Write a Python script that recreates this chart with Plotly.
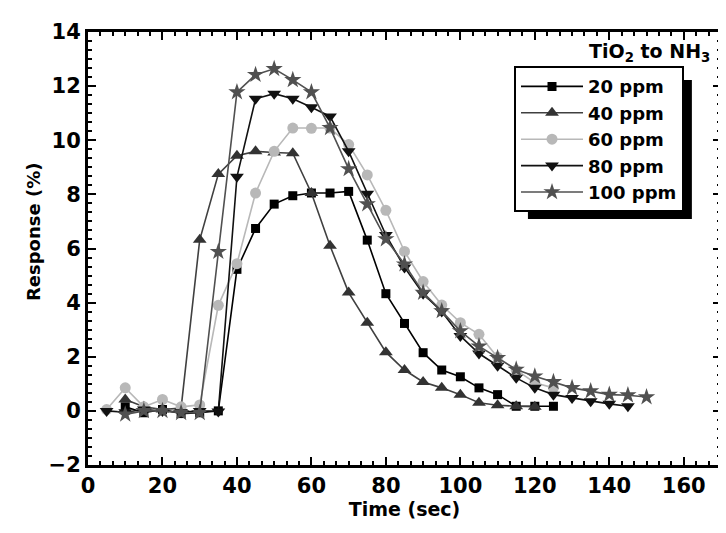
import plotly.graph_objects as go

# Response (%) of TiO2 sensor to NH3
t_20 = [10, 15, 20, 25, 30, 35, 40, 45, 50, 55, 60, 65, 70, 75, 80, 85, 90, 95,
        100, 105, 110, 115, 120, 125]
r_20 = [0.15, -0.07, 0.05, -0.1, -0.07, 0.0, 5.23, 6.74, 7.64, 7.95, 8.05, 8.05,
        8.11, 6.31, 4.33, 3.23, 2.15, 1.51, 1.26, 0.85, 0.6, 0.17, 0.17, 0.17]

t_40 = [10, 15, 20, 25, 30, 35, 40, 45, 50, 55, 60, 65, 70, 75, 80, 85, 90, 95,
        100, 105, 110, 115, 120]
r_40 = [0.42, 0.15, 0.05, 0.1, 6.32, 8.75, 9.43, 9.59, 9.55, 9.52, 8.05, 6.1,
        4.37, 3.26, 2.17, 1.51, 1.07, 0.85, 0.6, 0.3, 0.21, 0.17, 0.15]

t_60 = [5, 10, 15, 20, 25, 30, 35, 40, 45, 50, 55, 60, 65, 70, 75, 80, 85, 90,
        95, 100, 105, 110, 115, 120, 125]
r_60 = [0.05, 0.85, 0.15, 0.42, 0.15, 0.22, 3.9, 5.44, 8.05, 9.59, 10.45, 10.44,
        10.45, 9.84, 8.72, 7.41, 5.89, 4.78, 3.91, 3.26, 2.83, 1.98, 1.5, 1.04, 0.85]

t_80 = [5, 10, 15, 20, 25, 30, 35, 40, 45, 50, 55, 60, 65, 70, 75, 80, 85, 90,
        95, 100, 105, 110, 115, 120, 125, 130, 135, 140, 145]
r_80 = [0.0, -0.05, 0.05, 0.0, -0.05, 0.0, -0.02, 8.65, 11.53, 11.72, 11.53,
        11.22, 10.88, 9.59, 8.02, 6.5, 5.3, 4.33, 3.67, 2.77, 2.12, 1.67, 1.22,
        0.85, 0.6, 0.48, 0.36, 0.26, 0.17]

t_100 = [10, 15, 20, 25, 30, 35, 40, 45, 50, 55, 60, 65, 70, 75, 80, 85, 90, 95,
         100, 105, 110, 115, 120, 125, 130, 135, 140, 145, 150]
r_100 = [-0.13, 0.0, 0.0, -0.07, -0.07, 5.88, 11.78, 12.42, 12.64, 12.23, 11.78,
         10.46, 8.94, 7.64, 6.35, 5.42, 4.37, 3.69, 2.95, 2.39, 1.96, 1.53, 1.28,
         1.07, 0.85, 0.73, 0.6, 0.58, 0.51]

series = [
    ("20 ppm", t_20, r_20, "square", 9, "#000000", "#000000"),
    ("40 ppm", t_40, r_40, "triangle-up", 12, "#333333", "#404040"),
    ("60 ppm", t_60, r_60, "circle", 11, "#b8b8b8", "#b8b8b8"),
    ("80 ppm", t_80, r_80, "triangle-down", 12, "#111111", "#111111"),
    ("100 ppm", t_100, r_100, "star", 13, "#505050", "#505050"),
]

font = "DejaVu Sans, sans-serif"

fig = go.Figure()
for name, t, r, sym, size, mcol, lcol in series:
    fig.add_trace(
        go.Scatter(
            x=t,
            y=r,
            name=name,
            mode="lines+markers",
            line=dict(color=lcol, width=1.6),
            marker=dict(symbol=sym, size=size, color=mcol, line=dict(width=0)),
        )
    )

axis_common = dict(
    showline=True,
    linewidth=3,
    linecolor="black",
    mirror="ticks",
    ticks="inside",
    ticklen=8,
    tickwidth=2,
    tickcolor="black",
    showgrid=False,
    zeroline=False,
    tickfont=dict(family=font, size=21, color="black", weight="bold"),
)

fig.update_layout(
    width=726,
    height=533,
    margin=dict(l=80, r=10, t=24, b=76),
    paper_bgcolor="white",
    plot_bgcolor="white",
    xaxis=dict(
        range=[0, 170],
        dtick=20,
        minor=dict(dtick=20 / 6, ticks="inside", ticklen=4, tickwidth=2,
                   tickcolor="black"),
        title=dict(text="Time (sec)", standoff=6,
                   font=dict(family=font, size=19, color="black", weight="bold")),
        **axis_common,
    ),
    yaxis=dict(
        range=[-2, 14],
        dtick=2,
        minor=dict(dtick=2 / 6, ticks="inside", ticklen=4, tickwidth=2,
                   tickcolor="black"),
        **axis_common,
    ),
    legend=dict(
        x=0.673,
        y=0.921,
        xanchor="left",
        yanchor="top",
        bgcolor="white",
        bordercolor="black",
        borderwidth=2,
        itemwidth=62,
        font=dict(family=font, size=18, color="black", weight="bold"),
        tracegroupgap=0,
    ),
    showlegend=True,
)

# legend drop shadow
fig.add_shape(
    type="rect", xref="paper", yref="paper",
    x0=0.695, x1=0.954, y0=0.568, y1=0.889,
    fillcolor="black", line=dict(width=0), layer="above",
)

# y-axis title placed as in the reference
fig.add_annotation(
    text="Response (%)",
    xref="paper", yref="paper",
    x=-0.087, y=0.54, xanchor="center", yanchor="middle", textangle=-90,
    showarrow=False,
    font=dict(family=font, size=18, color="black", weight="bold"),
)

fig.add_annotation(
    text="TiO<sub>2</sub> to NH<sub>3</sub>",
    xref="paper", yref="paper",
    x=0.986, y=0.985, xanchor="right", yanchor="top",
    showarrow=False,
    font=dict(family=font, size=19, color="black", weight="bold"),
)

fig.write_html("out.html")
